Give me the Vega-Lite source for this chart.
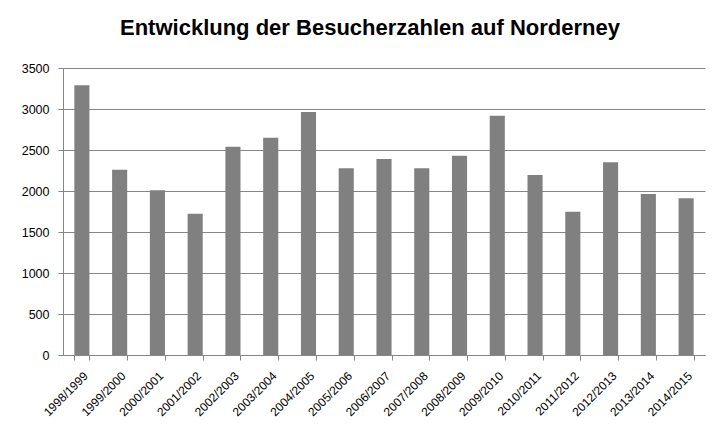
{
  "$schema": "https://vega.github.io/schema/vega-lite/v6.json",
  "autosize": {"type": "none"},
  "width": 642,
  "height": 287,
  "padding": {"left": 63, "top": 68, "right": 7, "bottom": 77},
  "background": "white",
  "title": {
    "text": "Entwicklung der Besucherzahlen auf Norderney",
    "font": "Liberation Sans",
    "fontSize": 22,
    "fontWeight": "bold",
    "color": "black",
    "anchor": "middle",
    "offset": 22,
    "dx": -14
  },
  "data": {
    "values": [
      {"saison": "1998/1999", "besucher": 3290},
      {"saison": "1999/2000", "besucher": 2258},
      {"saison": "2000/2001", "besucher": 2008},
      {"saison": "2001/2002", "besucher": 1724},
      {"saison": "2002/2003", "besucher": 2540},
      {"saison": "2003/2004", "besucher": 2650},
      {"saison": "2004/2005", "besucher": 2963},
      {"saison": "2005/2006", "besucher": 2276},
      {"saison": "2006/2007", "besucher": 2390},
      {"saison": "2007/2008", "besucher": 2276},
      {"saison": "2008/2009", "besucher": 2431},
      {"saison": "2009/2010", "besucher": 2919},
      {"saison": "2010/2011", "besucher": 2195},
      {"saison": "2011/2012", "besucher": 1748},
      {"saison": "2012/2013", "besucher": 2350},
      {"saison": "2013/2014", "besucher": 1963},
      {"saison": "2014/2015", "besucher": 1911}
    ]
  },
  "mark": {"type": "bar", "color": "#808080"},
  "encoding": {
    "x": {
      "field": "saison",
      "type": "nominal",
      "sort": null,
      "scale": {"paddingInner": 0.6, "paddingOuter": 0.3},
      "axis": {
        "title": null,
        "labelAngle": -45,
        "labelFont": "Liberation Sans",
        "labelFontSize": 12,
        "labelColor": "black",
        "tickBand": "extent",
        "tickColor": "#868686",
        "tickSize": 5,
        "domainColor": "#868686",
        "labelPadding": 10,
        "labelDx": -4
      }
    },
    "y": {
      "field": "besucher",
      "type": "quantitative",
      "scale": {"domain": [0, 3500], "nice": false},
      "axis": {
        "title": null,
        "format": "d",
        "values": [0, 500, 1000, 1500, 2000, 2500, 3000, 3500],
        "labelFont": "Liberation Sans",
        "labelFontSize": 12.5,
        "labelColor": "black",
        "tickColor": "#868686",
        "tickSize": 5,
        "domainColor": "#868686",
        "gridColor": "#868686",
        "labelPadding": 9
      }
    }
  },
  "config": {"view": {"stroke": null}}
}
